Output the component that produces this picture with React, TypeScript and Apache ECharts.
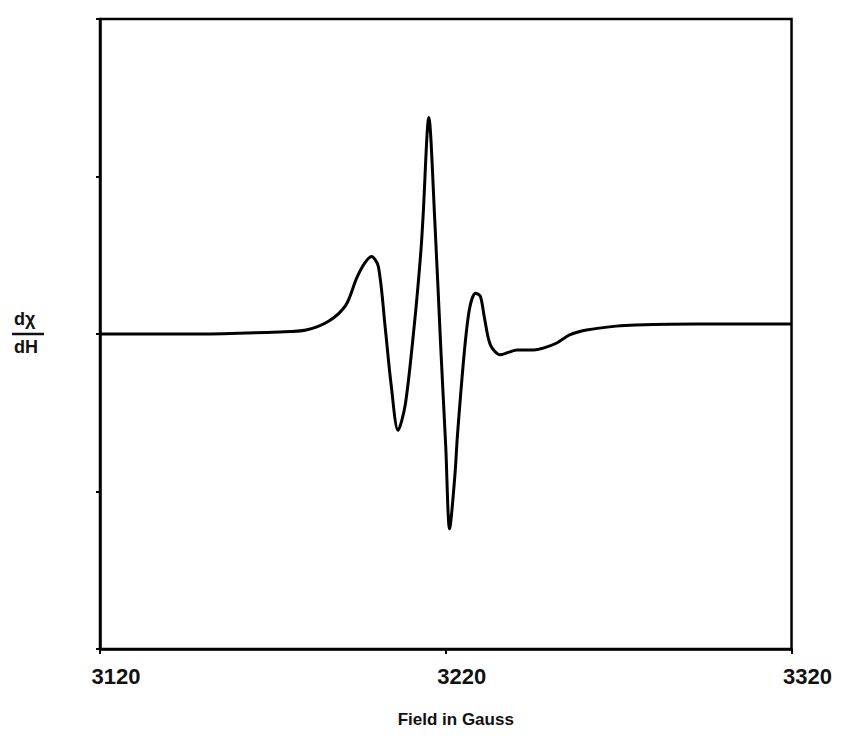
import React, { useEffect, useRef } from "react";
import * as echarts from "echarts";

const fieldGauss = [
  3120, 3148.9, 3171.9, 3179.6, 3186.2, 3191.1, 3194.2, 3196.5, 3198.5, 3200.5,
  3202.5, 3204.2, 3206.2, 3208.3, 3211.1, 3212.8, 3213.4, 3215.1, 3216.8, 3218.6,
  3220.0, 3221.1, 3222.6, 3223.4, 3225.4, 3226.9, 3228.6, 3230.0, 3231.2, 3232.9,
  3235.8, 3240.6, 3245.5, 3248.4, 3252.1, 3255.8, 3260.7, 3269.3, 3275.0, 3292.2, 3320,
];
const signal = [
  0, 0, 0.013, 0.025, 0.082, 0.183, 0.353, 0.448, 0.492, 0.429,
  0.038, -0.322, -0.612, -0.448, 0.101, 0.524, 0.732, 1.375, 0.732, -0.107,
  -0.719, -1.237, -0.909, -0.637, -0.107, 0.164, 0.259, 0.24, 0.101, -0.069,
  -0.132, -0.101, -0.101, -0.088, -0.057, -0.006, 0.025, 0.05, 0.057, 0.063, 0.063,
];
const xTicks = [3120, 3220, 3320];
const yTicks = [-2, -1, 0, 1, 2];

export default function App() {
  const ref = useRef<HTMLDivElement>(null);
  useEffect(() => {
    if (!ref.current) return;
    const chart = echarts.init(ref.current, undefined, { renderer: "svg" });
    const font = "Liberation Sans, Arial, Helvetica, sans-serif";
    chart.setOption({
      animation: false,
      backgroundColor: "#fff",
      grid: {
        left: 92,
        right: 38,
        top: 11,
        bottom: 82,
        show: true,
        borderColor: "#000",
        borderWidth: 2.5,
      },
      xAxis: {
        type: "value",
        min: xTicks[0],
        max: xTicks[xTicks.length - 1],
        interval: 100,
        name: "Field in Gauss",
        nameLocation: "middle",
        nameGap: 62,
        nameTextStyle: {
          fontFamily: font,
          fontSize: 17,
          fontWeight: "bold",
          color: "#111",
          padding: [0, 0, 0, 20],
        },
        axisLine: { show: true, onZero: false, lineStyle: { color: "#000", width: 2.5 } },
        axisTick: { show: true, length: 5, inside: false, lineStyle: { color: "#000", width: 2 } },
        splitLine: { show: false },
        axisLabel: {
          fontFamily: font,
          fontSize: 22,
          fontWeight: "bold",
          color: "#111",
          margin: 16,
          padding: [0, 0, 0, 32],
          formatter: (v: number) => (xTicks.includes(v) ? String(v) : ""),
        },
      },
      yAxis: {
        type: "value",
        min: yTicks[0],
        max: yTicks[yTicks.length - 1],
        interval: 1,
        axisLine: { show: true, onZero: false, lineStyle: { color: "#000", width: 2.5 } },
        axisTick: { show: true, length: 4, lineStyle: { color: "#000", width: 2 } },
        axisLabel: { show: false },
        splitLine: { show: false },
      },
      graphic: [
        {
          type: "text",
          left: 6,
          top: 302,
          style: { text: "dχ", font: `bold 18px ${font}`, fill: "#111" },
        },
        {
          type: "line",
          shape: { x1: 4, y1: 326, x2: 36, y2: 326 },
          style: { stroke: "#111", lineWidth: 2.5 },
        },
        {
          type: "text",
          left: 6,
          top: 330,
          style: { text: "dH", font: `bold 18px ${font}`, fill: "#111" },
        },
      ],
      series: [
        {
          type: "line",
          data: fieldGauss.map((x, i) => [x, signal[i]]),
          smooth: 0.3,
          showSymbol: false,
          lineStyle: { color: "#000", width: 3 },
        },
      ],
    });
    return () => chart.dispose();
  }, []);
  return <div ref={ref} style={{ width: 827, height: 725 }} />;
}
